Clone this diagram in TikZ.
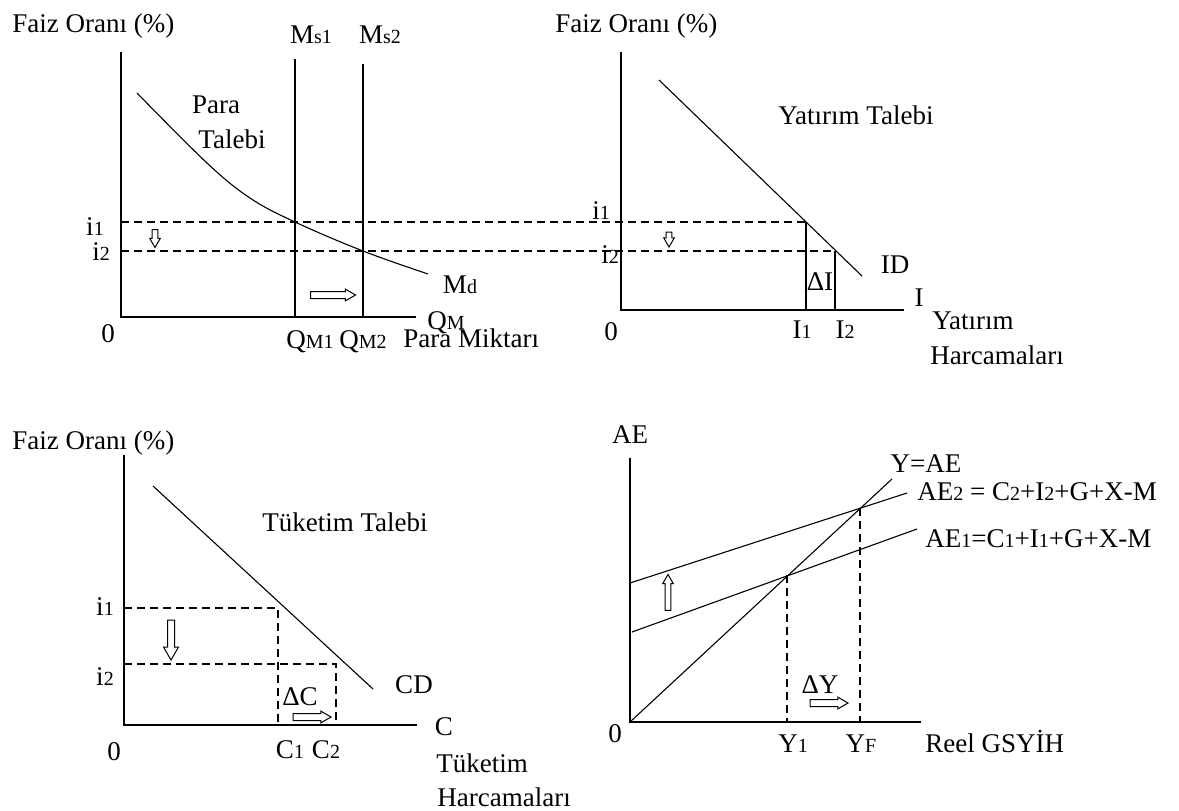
\documentclass[tikz,border=0pt]{standalone}
\usepackage{fontspec}
\setmainfont{Liberation Serif}
\usetikzlibrary{shapes.arrows}
\newcommand{\sbx}[1]{{\fontsize{10}{12}\selectfont #1}}
\tikzset{
  axisline/.style={line width=1.1pt},
  supplyline/.style={line width=0.8pt},
  curveline/.style={line width=0.55pt},
  guideline/.style={line width=0.8pt, dash pattern=on 4pt off 2.5pt},
  hollowarrow/.style={single arrow, draw, line width=0.5pt, inner xsep=0pt, inner ysep=1.5pt,
    single arrow head extend=1.2pt, single arrow tip angle=60, minimum width=0pt},
  lbl/.style={inner sep=0pt}
}
\begin{document}
\begin{tikzpicture}[x=0.5pt, y=-0.5pt, every node/.style={font=\fontsize{13.5}{16}\selectfont}]
\useasboundingbox (0,0) rectangle (1179,810);

% money market
\coordinate (mO) at (121,317);
\coordinate (mY) at (121,52);
\coordinate (mX) at (416,317);
\draw[axisline] (mY) -- (mO) -- (mX);
\coordinate (msonetop) at (295,59);
\coordinate (msonebot) at (295,317);
\coordinate (mstwotop) at (363,64);
\coordinate (mstwobot) at (363,317);
\draw[supplyline] (msonetop) -- (msonebot);
\draw[supplyline] (mstwotop) -- (mstwobot);
\draw[curveline] plot[smooth, tension=0.6] coordinates {(137,93) (207,163) (250,198) (295,222) (363,251) (428,274)};

\node (mtitle) [lbl, anchor=west] at (12,26) {Faiz Oranı (\%)};
\node (msone) [lbl] at (311,35) {M\sbx{s1}};
\node (mstwo) [lbl] at (380,35) {M\sbx{s2}};
\node (mpara) [lbl] at (216,105) {Para};
\node (mtalebi) [lbl] at (232,139) {Talebi};
\node (mione) [lbl] at (95,227) {i\sbx{1}};
\node (mitwo) [lbl] at (101,252) {i\sbx{2}};
\node (mzero) [lbl] at (108,334) {0};
\node (mmd) [lbl] at (460,285) {M\sbx{d}};
\node (mqm) [lbl] at (446,323) {Q\sbx{M}};
\node (mqmone) [lbl] at (310,342) {Q\sbx{M1}};
\node (mqmtwo) [lbl] at (363,342) {Q\sbx{M2}};
\node (mmiktar) [lbl, anchor=west] at (403,338) {Para Miktarı};
\node (mdown) [hollowarrow, rotate=270, minimum height=9pt, inner ysep=1.2pt] at (155,236) {};
\node (mright) [hollowarrow, minimum height=22.5pt] at (330,295) {};

% interest rate guides, running into investment panel
\coordinate (ioneL) at (121,222);
\coordinate (itwoL) at (121,251);
\coordinate (ioneR) at (806,222);
\coordinate (itwoR) at (835,251);
\draw[guideline] (ioneL) -- (ioneR);
\draw[guideline] (itwoL) -- (itwoR);

% investment
\coordinate (vO) at (621,310);
\coordinate (vY) at (621,52);
\coordinate (vX) at (904,310);
\draw[axisline] (vY) -- (vO) -- (vX);
\coordinate (idtop) at (659,80);
\coordinate (idbot) at (862,276);
\draw[curveline] (idtop) -- (idbot);
\coordinate (vone) at (806,310);
\coordinate (vtwo) at (835,310);
\draw[supplyline] (ioneR) -- (vone);
\draw[supplyline] (itwoR) -- (vtwo);

\node (vtitle) [lbl, anchor=west] at (555,26) {Faiz Oranı (\%)};
\node (vtalebi) [lbl] at (856,115) {Yatırım Talebi};
\node (vione) [lbl] at (601,211) {i\sbx{1}};
\node (vitwo) [lbl] at (610,255) {i\sbx{2}};
\node (vdelta) [lbl] at (820,282) {ΔI};
\node (vid) [lbl] at (895,265) {ID};
\node (vi) [lbl] at (919,298) {I};
\node (vzero) [lbl] at (611,332) {0};
\node (vIone) [lbl] at (802,330) {I\sbx{1}};
\node (vItwo) [lbl] at (845,330) {I\sbx{2}};
\node (vyatirim) [lbl, anchor=west] at (932,321) {Yatırım};
\node (vharc) [lbl, anchor=west] at (930,355) {Harcamaları};
\node (vdown) [hollowarrow, rotate=270, minimum height=7.5pt, inner ysep=1.2pt] at (669,237) {};

% consumption
\coordinate (cO) at (124,725);
\coordinate (cY) at (124,455);
\coordinate (cX) at (417,725);
\draw[axisline] (cY) -- (cO) -- (cX);
\coordinate (cdtop) at (153,486);
\coordinate (cdbot) at (373,689);
\draw[curveline] (cdtop) -- (cdbot);
\coordinate (coneL) at (124,608);
\coordinate (coneR) at (278,608);
\coordinate (conebot) at (278,725);
\coordinate (ctwoL) at (124,664);
\coordinate (ctwoR) at (336,664);
\coordinate (ctwobot) at (336,725);
\draw[guideline] (coneL) -- (coneR) -- (conebot);
\draw[guideline] (ctwoL) -- (ctwoR) -- (ctwobot);

\node (ctitle) [lbl, anchor=west] at (12,443) {Faiz Oranı (\%)};
\node (ctalebi) [lbl] at (345,522) {Tüketim Talebi};
\node (cione) [lbl] at (105,607) {i\sbx{1}};
\node (citwo) [lbl] at (105,677) {i\sbx{2}};
\node (ccd) [lbl] at (414,685) {CD};
\node (cdelta) [lbl] at (300,697) {ΔC};
\node (cc) [lbl] at (444,727) {C};
\node (czero) [lbl] at (114,752) {0};
\node (cCone) [lbl] at (290,750) {C\sbx{1}};
\node (cCtwo) [lbl] at (326,750) {C\sbx{2}};
\node (ctuk) [lbl, anchor=west] at (436,763) {Tüketim};
\node (charc) [lbl, anchor=west] at (437,797) {Harcamaları};
\node (cdown) [hollowarrow, rotate=270, minimum height=20pt, single arrow head extend=2pt] at (171,637) {};
\node (cright) [hollowarrow, minimum height=19pt] at (309,717) {};

% aggregate expenditure
\coordinate (aO) at (630,722);
\coordinate (aY) at (630,458);
\coordinate (aX) at (921,722);
\draw[axisline] (aY) -- (aO) -- (aX);
\coordinate (yaeend) at (892,479);
\coordinate (aetwoL) at (630,583);
\coordinate (aetwoR) at (907,493);
\coordinate (aeoneL) at (632,632);
\coordinate (aeoneR) at (917,529);
\draw[curveline] (aO) -- (yaeend);
\draw[curveline] (aetwoL) -- (aetwoR);
\draw[curveline] (aeoneL) -- (aeoneR);
\coordinate (yonetop) at (787,575);
\coordinate (yonebot) at (787,722);
\coordinate (yftop) at (860,508);
\coordinate (yfbot) at (860,722);
\draw[guideline, line width=0.6pt] (yonetop) -- (yonebot);
\draw[guideline, line width=0.6pt] (yftop) -- (yfbot);

\node (aae) [lbl] at (630,435) {AE};
\node (ayae) [lbl] at (926,464) {Y=AE};
\node (aetwo) [lbl, anchor=west] at (917,492) {AE\sbx{2} = C\sbx{2}+I\sbx{2}+G+X-M};
\node (aeone) [lbl, anchor=west] at (925,539) {AE\sbx{1}=C\sbx{1}+I\sbx{1}+G+X-M};
\node (azero) [lbl] at (615,734) {0};
\node (areel) [lbl, anchor=west] at (925,741) {Reel GSYİH};
\node (aYone) [lbl] at (793,744) {Y\sbx{1}};
\node (aYF) [lbl] at (861,744) {Y\sbx{F}};
\node (adelta) [lbl] at (820,685) {ΔY};
\node (aup) [hollowarrow, rotate=90, minimum height=18pt, inner ysep=1.2pt] at (668,595) {};
\node (aright) [hollowarrow, minimum height=19pt] at (826,703) {};

\end{tikzpicture}
\end{document}
